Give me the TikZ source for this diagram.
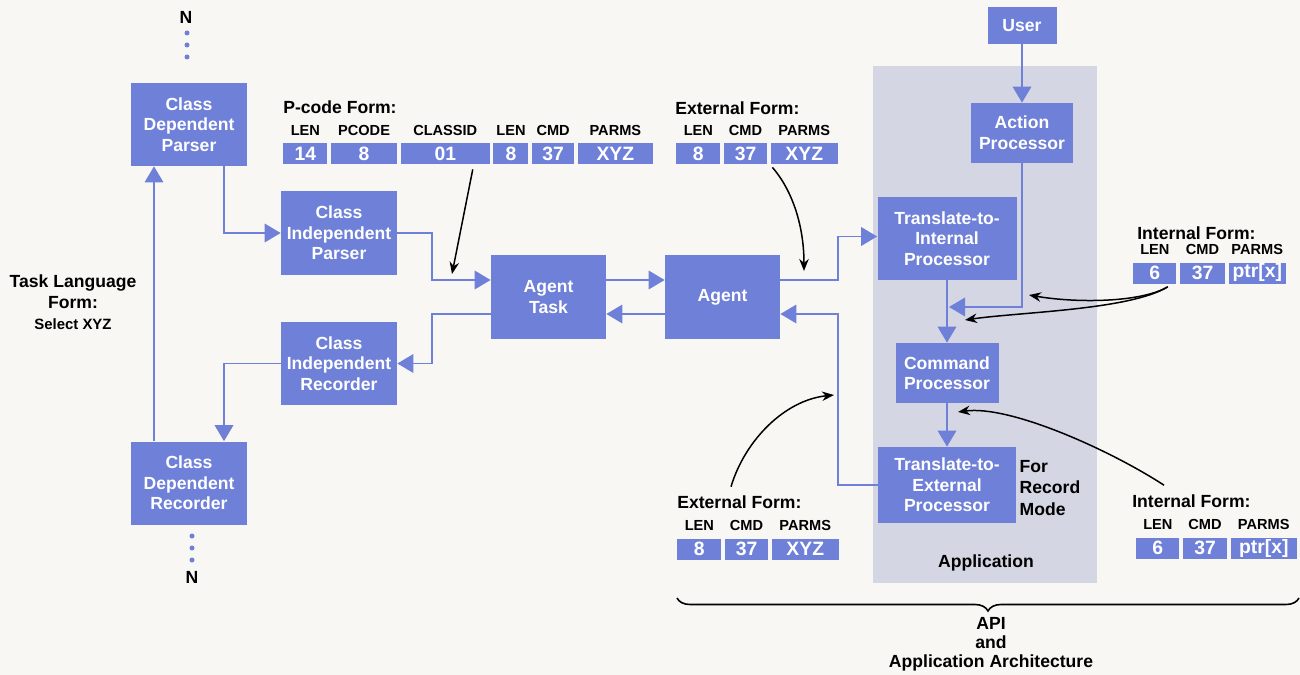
\documentclass[tikz,border=0pt]{standalone}
\usepackage{fontspec}
\setmainfont{Liberation Sans}
\usepackage{tikz}
\usetikzlibrary{positioning,calc,arrows.meta,decorations.pathreplacing}
\definecolor{boxblue}{HTML}{6E80D8}
\definecolor{appgray}{HTML}{D5D6E4}
\definecolor{paper}{HTML}{F8F7F3}

\begin{document}
\begin{tikzpicture}[x=0.2mm, y=-0.2mm,
    blk/.style={fill=boxblue, text=white, font=\fontsize{10}{11.7}\selectfont\bfseries, align=center, inner sep=0pt, minimum width=23.2mm, minimum height=16.6mm},
    fld/.style={fill=boxblue, text=white, font=\fontsize{11}{12}\selectfont\bfseries, inner sep=0pt, minimum height=4.2mm},
    hdr/.style={font=\fontsize{8.3}{10}\selectfont\bfseries, inner sep=0pt, anchor=base},
    lbl/.style={font=\fontsize{10}{12}\selectfont\bfseries, inner sep=0pt},
    flow/.style={boxblue, line width=1.1pt, -{Triangle[length=3.2mm, width=3.7mm]}},
    note/.style={black, line width=0.85pt, -{Stealth[length=2.4mm, width=1.9mm]}}]

    \fill[paper] (0,0) rectangle (1300,675);
    \useasboundingbox (0,0) rectangle (1300,675);
    \fill[appgray] (873,66) rectangle (1097,583);

    % class parsers and recorders
    \node[blk] (cdp) at (189,124.5) {Class\\Dependent\\Parser};
    \node[blk] (cip) at (339,233) {Class\\Independent\\Parser};
    \node[blk] (cir) at (339,363.5) {Class\\Independent\\Recorder};
    \node[blk] (cdr) at (189,483) {Class\\Dependent\\Recorder};
    \node[blk, minimum width=23mm] (task) at (548.5,297) {Agent\\Task};
    \node[blk, minimum width=23mm] (agent) at (722.5,297) {Agent};

    % application
    \node[blk, minimum width=13.8mm, minimum height=7.4mm] (user) at (1022,25.5) {User};
    \node[blk, minimum width=20.4mm, minimum height=12mm] (act) at (1022,133) {Action\\Processor};
    \node[blk, minimum width=27.8mm] (tin) at (947,238.5) {Translate-to-\\Internal\\Processor};
    \node[blk, minimum width=20.6mm, minimum height=12mm] (cmd) at (947,373) {Command\\Processor};
    \node[blk, minimum width=27.6mm, minimum height=15.2mm] (tex) at (947,485) {Translate-to-\\External\\Processor};
    \node[lbl, align=left, font=\fontsize{10}{12.2}\selectfont\bfseries, right=0.6mm of tex, yshift=-0.6mm] (rec) {For\\Record\\Mode};
    \node[lbl] (app) at (986,563) {Application};

    \node[lbl] (ntop) at (186,17) {N};
    \node[lbl] (nbot) at (192,577) {N};
    \foreach \y in {33,45,57} \fill[boxblue] (187,\y) circle[radius=0.5mm];
    \foreach \y in {536,548,560} \fill[boxblue] (192,\y) circle[radius=0.5mm];
    \node[lbl, align=center] (tlf) at (73,302) {Task Language\\Form:\\{\fontsize{8.5}{10}\selectfont Select XYZ}};

    % P-code form
    \node[lbl, anchor=west] (pclbl) at (283,107) {P-code Form:};
    \node[fld, minimum width=8.8mm, anchor=west] (pc1) at (283,153.5) {14};
    \node[fld, minimum width=13.2mm, right=0.6mm of pc1] (pc2) {8};
    \node[fld, minimum width=17.8mm, right=0.6mm of pc2] (pc3) {01};
    \node[fld, minimum width=7mm, right=0.6mm of pc3] (pc4) {8};
    \node[fld, minimum width=8.4mm, right=0.6mm of pc4] (pc5) {37};
    \node[fld, minimum width=15mm, right=0.6mm of pc5] (pc6) {XYZ};
    \foreach \f/\t in {pc1/LEN,pc2/PCODE,pc3/CLASSID,pc4/LEN,pc5/CMD,pc6/PARMS}
        \node[hdr] (h\f) at ([yshift=1.5mm]\f.north) {\t};

    % external forms
    \node[lbl, anchor=west] (exalbl) at (675,108) {External Form:};
    \node[fld, minimum width=8.8mm, anchor=west] (exa1) at (676,153.5) {8};
    \node[fld, minimum width=8.6mm, right=0.6mm of exa1] (exa2) {37};
    \node[fld, minimum width=13.4mm, right=0.6mm of exa2] (exa3) {XYZ};
    \node[lbl, anchor=west] (exblbl) at (677,502) {External Form:};
    \node[fld, minimum width=8.8mm, anchor=west] (exb1) at (677,549) {8};
    \node[fld, minimum width=8.6mm, right=0.6mm of exb1] (exb2) {37};
    \node[fld, minimum width=13.4mm, right=0.6mm of exb2] (exb3) {XYZ};

    % internal forms
    \node[lbl, anchor=west] (inalbl) at (1137,233) {Internal Form:};
    \node[fld, minimum width=8.6mm, anchor=west] (ina1) at (1133,273) {6};
    \node[fld, minimum width=9mm, right=0.6mm of ina1] (ina2) {37};
    \node[fld, minimum width=11.4mm, right=0.6mm of ina2] (ina3) {ptr[x]};
    \node[lbl, anchor=west] (inblbl) at (1132,501) {Internal Form:};
    \node[fld, minimum width=8.6mm, anchor=west] (inb1) at (1136,548) {6};
    \node[fld, minimum width=8.8mm, right=0.6mm of inb1] (inb2) {37};
    \node[fld, minimum width=13.2mm, right=0.6mm of inb2] (inb3) {ptr[x]};
    \foreach \f/\t in {exa1/LEN,exa2/CMD,exa3/PARMS,exb1/LEN,exb2/CMD,exb3/PARMS,ina1/LEN,ina2/CMD,ina3/PARMS,inb1/LEN,inb2/CMD,inb3/PARMS}
        \node[hdr] (h\f) at ([yshift=1.5mm]\f.north) {\t};

    % flow
    \draw[flow] ([xshift=-7mm]cdr.north) -- ([xshift=-7mm]cdp.south);
    \draw[flow] ([xshift=7mm]cdp.south) |- (cip.west);
    \draw[flow] (cip.east) -- ++(35,0) |- ([yshift=3.4mm]task.west);
    \draw[flow] ([yshift=3.4mm]task.east) -- ([yshift=3.4mm]agent.west);
    \draw[flow] ([yshift=-3.4mm]agent.west) -- ([yshift=-3.4mm]task.east);
    \draw[flow] ([yshift=-3.4mm]task.west) -- ++(-59,0) |- (cir.east);
    \draw[flow] (cir.west) -| ([xshift=7mm]cdr.north);
    \draw[flow] ([yshift=3.4mm]agent.east) -- ++(58,0) |- ([yshift=0.4mm]tin.west);
    \draw[flow] (tex.west) -- ++(-40,0) |- ([yshift=-3.4mm]agent.east);
    \coordinate (merge) at (949,307);
    \draw[flow] (user) -- (act);
    \draw[flow] (act.south) |- (merge);
    \draw[flow] (tin) -- (cmd);
    \draw[flow] (cmd) -- (tex);

    % where the forms go
    \coordinate (pin) at (452,274);
    \coordinate (xin) at (804,271);
    \coordinate (iin1) at (1029,295);
    \coordinate (iin2) at (965,320);
    \coordinate (xout) at (834,395);
    \coordinate (iout) at (958,412);
    \draw[note] ([xshift=5.5mm,yshift=-1mm]pc3.south) -- (pin);
    \draw[note] ([xshift=0.4mm,yshift=-0.6mm]exa3.south west) .. controls (792,190) and (804,225) .. (xin);
    \draw[note] ([xshift=-1.8mm,yshift=-0.6mm]ina1.south east) .. controls (1140,303) and (1075,303) .. (iin1);
    \draw[note] ([xshift=-1.8mm,yshift=-0.6mm]ina1.south east) .. controls (1130,310) and (1020,312) .. (iin2);
    \draw[note] ([xshift=10.8mm,yshift=1.7mm]exblbl.north west) .. controls (745,440) and (785,400) .. (xout);
    \draw[note] ([xshift=6.4mm,yshift=1.8mm]inblbl.north west) .. controls (1110,450) and (1010,405) .. (iout);

    % api brace
    \draw[decorate, decoration={brace, mirror, amplitude=2.6mm}, line width=0.9pt] (677,598) -- (1299,598);
    \node[lbl, align=center, font=\fontsize{10}{10.8}\selectfont\bfseries] (api) at (991,644) {API\\and\\Application Architecture};
\end{tikzpicture}
\end{document}
